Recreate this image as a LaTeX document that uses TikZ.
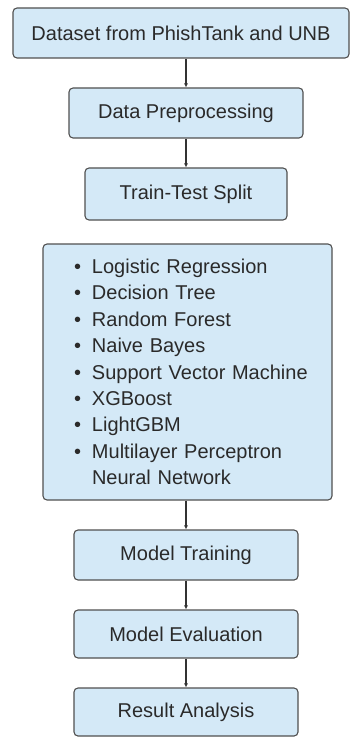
\documentclass[tikz,border=0pt]{standalone}
\usepackage{fontspec}
\setmainfont{Liberation Sans}
\usetikzlibrary{arrows.meta}
\definecolor{boxfill}{HTML}{D4E9F7}
\definecolor{boxline}{HTML}{505050}
\definecolor{txt}{HTML}{2A2A2A}
\newcommand\itm[1]{\hspace*{31pt}\makebox[18pt][l]{\textbullet}#1}
\begin{document}
\begin{tikzpicture}[x=1pt,y=-1pt,
  box/.style={draw=boxline, fill=boxfill, line width=1.1pt, rounded corners=4pt,
    text=txt, font=\fontsize{20}{24}\selectfont, inner sep=0pt, align=center},
  arr/.style={draw=black!80, line width=1.1pt, -{Latex[length=4pt,width=4pt]}}]
\useasboundingbox (0,0) rectangle (351,738);
\node[box, minimum width=336pt, minimum height=50pt] (b1) at (181,33) {Dataset from PhishTank and UNB};
\node[box, minimum width=234pt, minimum height=50pt] (b2) at (186,113) {Data Preprocessing};
\node[box, minimum width=202pt, minimum height=52pt] (b3) at (186,194) {Train-Test Split};
\node[box, minimum width=289pt, minimum height=256pt, text width=289pt, align=left,
  font=\fontsize{20}{26.4}\selectfont] (b4) at (187.5,372) {%
\itm{Logistic Regression}\\
\itm{Decision Tree}\\
\itm{Random Forest}\\
\itm{Naive Bayes}\\
\itm{Support Vector Machine}\\
\itm{XGBoost}\\
\itm{LightGBM}\\
\itm{Multilayer Perceptron}\\
\hspace*{49pt}Neural Network};
\node[box, minimum width=224pt, minimum height=50pt] (b5) at (186,555) {Model Training};
\node[box, minimum width=224pt, minimum height=48pt] (b6) at (186,634) {Model Evaluation};
\node[box, minimum width=224pt, minimum height=48pt] (b7) at (186,712) {Result Analysis};
\draw[arr] (b1.south -| b2.north) -- (b2.north);
\draw[arr] (b2.south) -- (b3.north);
\draw[arr] (b4.south -| b5.north) -- (b5.north);
\draw[arr] (b5.south) -- (b6.north);
\draw[arr] (b6.south) -- (b7.north);
\end{tikzpicture}
\end{document}
